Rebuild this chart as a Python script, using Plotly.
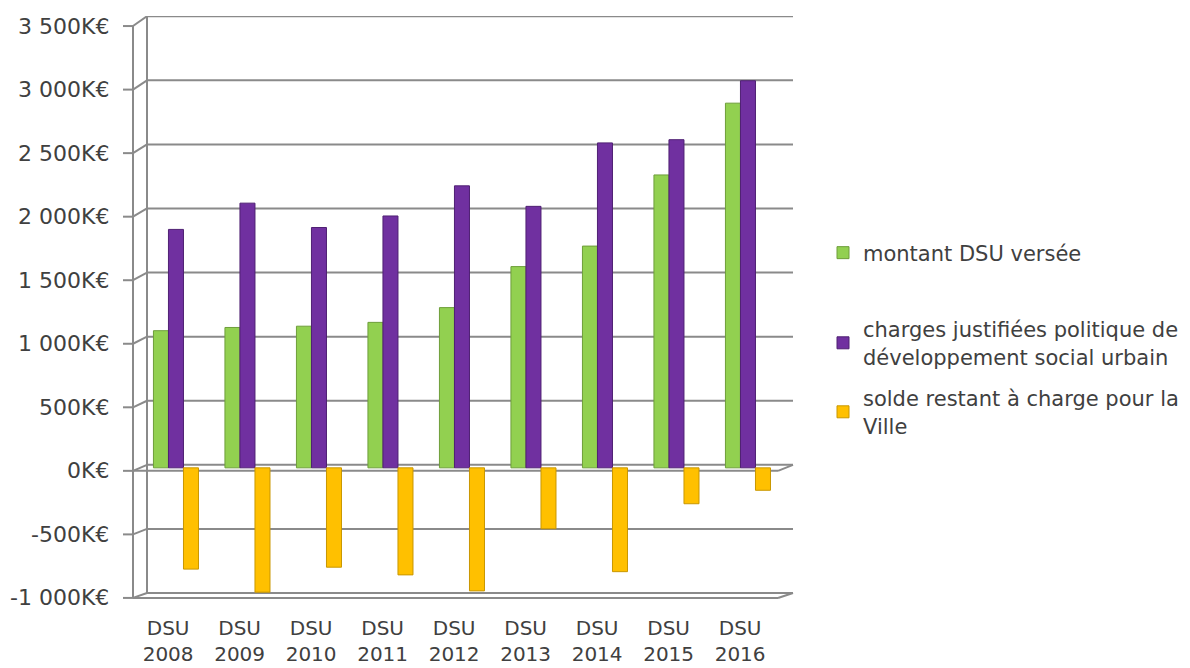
import plotly.graph_objects as go

# Data (K€)
categories = ["DSU<br>2008", "DSU<br>2009", "DSU<br>2010", "DSU<br>2011", "DSU<br>2012",
              "DSU<br>2013", "DSU<br>2014", "DSU<br>2015", "DSU<br>2016"]
montant_dsu = [1070, 1095, 1105, 1135, 1250, 1570, 1730, 2285, 2845]
charges_dsu = [1860, 2065, 1875, 1965, 2200, 2040, 2535, 2560, 3020]
solde_ville = [-790, -970, -775, -835, -960, -475, -810, -280, -175]

y_ticks = [3500, 3000, 2500, 2000, 1500, 1000, 500, 0, -500, -1000]
y_tick_text = ["3 500K€", "3 000K€", "2 500K€", "2 000K€", "1 500K€", "1 000K€",
               "500K€", "0K€", "-500K€", "-1 000K€"]

names = ["montant DSU versée",
         "charges justifiées politique de<br>développement social urbain",
         "solde restant à charge pour la<br>Ville"]
colors = ["#92D050", "#7030A0", "#FFC000"]
edges = ["#6E9E3A", "#4F2073", "#C99700"]

W, H = 1190, 668
unit = 0.1282                     # pixels per K€ at bar depth
front_unit = 0.1271               # pixels per K€ on the front edge (perspective)
R0, R1 = -1070, 3525              # value range of the plot box (includes 3D wall depth)
PL, PR, PT = 133, 793, 16
PB = round(PT + (R1 - R0) * unit)
pw, ph = PR - PL, PB - PT
back = 3 / unit                   # back wall sits slightly above bar level
depth_x = 14


def px(xp):
    return (xp - PL) / pw


def front(v):
    # value coordinate of the front edge for tick value v
    return (v * front_unit - 3) / unit


def back_v(v):
    return v + back


fig = go.Figure()
xs = list(range(len(categories)))
for i, vals in enumerate([montant_dsu, charges_dsu, solde_ville]):
    fig.add_trace(go.Bar(
        x=xs, y=vals, name=names[i],
        marker=dict(color=colors[i], line=dict(color=edges[i], width=1)),
        legend=["legend", "legend2", "legend3"][i],
        showlegend=True,
    ))

grid = "#8A8A8A"
lw = 2
shapes = []
for v in y_ticks:
    # back-wall gridline
    shapes.append(dict(type="line", xref="paper", yref="y", x0=px(PL + depth_x), x1=1,
                       y0=back_v(v), y1=back_v(v), line=dict(color=grid, width=lw), layer="below"))
    # side-wall connector
    shapes.append(dict(type="line", xref="paper", yref="y", x0=0, x1=px(PL + depth_x),
                       y0=front(v), y1=back_v(v), line=dict(color=grid, width=lw), layer="below"))
    # tick mark on the front axis
    shapes.append(dict(type="line", xref="paper", yref="y", x0=px(PL - 10), x1=0,
                       y0=front(v), y1=front(v), line=dict(color=grid, width=lw)))
# front axis line
shapes.append(dict(type="line", xref="paper", yref="y", x0=0, x1=0,
                   y0=front(y_ticks[0]), y1=front(y_ticks[-1]), line=dict(color=grid, width=lw)))
# back wall vertical edge
shapes.append(dict(type="line", xref="paper", yref="y", x0=px(PL + depth_x), x1=px(PL + depth_x),
                   y0=back_v(y_ticks[0]), y1=back_v(y_ticks[-1]),
                   line=dict(color=grid, width=lw), layer="below"))
# floor edges at 0 and at the bottom
for v in [0, y_ticks[-1]]:
    shapes.append(dict(type="line", xref="paper", yref="y", x0=0, x1=px(PR - 15),
                       y0=front(v), y1=front(v), line=dict(color=grid, width=lw), layer="below"))
    shapes.append(dict(type="line", xref="paper", yref="y", x0=px(PR - 15), x1=1,
                       y0=front(v), y1=back_v(v), line=dict(color=grid, width=lw), layer="below"))

font_family = "DejaVu Sans, sans-serif"
txt = "#404040"

# value labels along the front axis
annotations = [dict(xref="paper", yref="y", x=px(111), y=front(v), text=t,
                    xanchor="right", yanchor="middle", showarrow=False,
                    font=dict(family=font_family, size=22, color=txt))
               for v, t in zip(y_ticks, y_tick_text)]

legend_common = dict(font=dict(family=font_family, size=21, color=txt),
                     xanchor="left", yanchor="middle", bgcolor="rgba(0,0,0,0)",
                     itemclick=False, itemdoubleclick=False)
leg_x = px(823)

fig.update_layout(
    width=W, height=H,
    margin=dict(l=PL, r=W - PR, t=PT, b=H - PB, pad=0, autoexpand=False),
    paper_bgcolor="white", plot_bgcolor="white",
    barmode="group", bargap=0.37, bargroupgap=0,
    shapes=shapes, annotations=annotations,
    showlegend=True,
    font=dict(family=font_family, color=txt),
    xaxis=dict(range=[-0.601, -0.601 + pw / 71.5], automargin=False,
               tickvals=[x - 0.11 for x in xs], ticktext=categories,
               showgrid=False, zeroline=False, showline=False, ticks="",
               tickfont=dict(size=20, color=txt), ticklabelstandoff=9),
    yaxis=dict(range=[R0, R1], automargin=False, showticklabels=False,
               showgrid=False, zeroline=False, showline=False, ticks=""),
    legend=dict(x=leg_x, y=(PB - 253) / ph, **legend_common),
    legend2=dict(x=leg_x, y=(PB - 343) / ph, **legend_common),
    legend3=dict(x=leg_x, y=(PB - 412) / ph, **legend_common),
)

fig.write_html("out.html")
